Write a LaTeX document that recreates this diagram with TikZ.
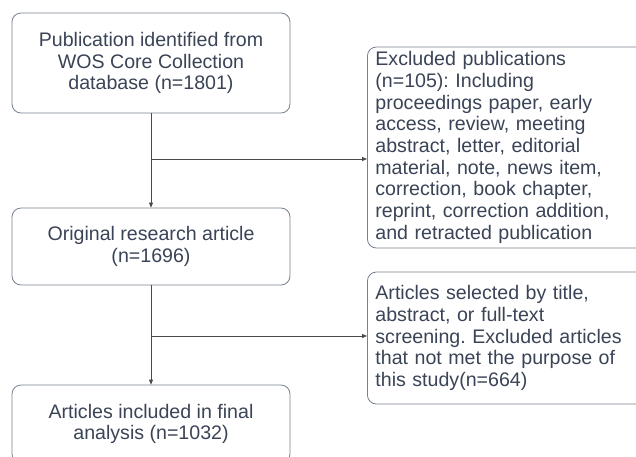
\documentclass[tikz,border=0pt]{standalone}
\usepackage{fontspec}
\setmainfont{Liberation Sans}
\usetikzlibrary{arrows.meta, positioning}
\definecolor{textgray}{HTML}{3A4456}
\definecolor{boxgray}{HTML}{77818F}
\definecolor{linegray}{HTML}{4A4A4A}
\frenchspacing

\begin{document}
\begin{tikzpicture}[
    x=1pt, y=-1pt,
    stagebox/.style={rectangle, rounded corners=9pt, draw=boxgray, line width=0.8pt, text=textgray, minimum width=278pt, align=center, inner sep=0pt, font=\fontsize{19.6}{21.7}\selectfont},
    exclbox/.style={rectangle, rounded corners=9pt, draw=boxgray, line width=0.8pt, text=textgray, text width=262pt, inner xsep=8pt, inner ysep=0pt, align=left, anchor=west, font=\fontsize{19.6}{21.7}\selectfont},
    arrow/.style={-{Triangle[length=5pt, width=4pt]}, linegray, line width=0.8pt},
]
    \clip (0,0) rectangle (636,456);
    \fill[white] (0,0) rectangle (636,456);
    % main flow
    \node[stagebox, minimum height=100pt] (pub) at (151,63) {Publication identified from\\WOS Core Collection\\database (n=1801)};
    \node[stagebox, minimum height=77pt] (orig) at (151,246.5) {Original research article\\(n=1696)};
    \node[stagebox, minimum height=78pt] (final) at (151,424) {Articles included in final\\analysis (n=1032)};
    % exclusions
    \node[exclbox, minimum height=201pt] (excl) at (367,147.5) {Excluded publications\\(n=105): Including\\proceedings paper, early\\access, review, meeting\\abstract, letter, editorial\\material, note, news item,\\correction, book chapter,\\reprint, correction addition,\\and retracted publication};
    \node[exclbox, minimum height=132pt] (screen) at (367,338) {Articles selected by title,\\abstract, or full-text\\screening. Excluded articles\\that not met the purpose of\\this study(n=664)};
    \coordinate (b1) at (151,159);
    \coordinate (b2) at (151,336);
    \draw[arrow] (pub) -- (orig);
    \draw[arrow] (orig) -- (final);
    \draw[arrow] (b1) -- (b1 -| excl.west);
    \draw[arrow] (b2) -- (b2 -| screen.west);
\end{tikzpicture}
\end{document}
